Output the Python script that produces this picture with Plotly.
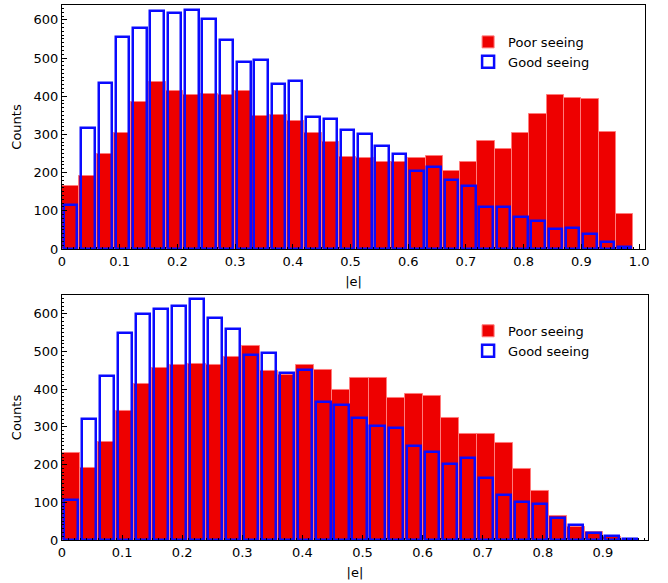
import plotly.graph_objects as go

# Bin left edges (bin width 0.03)
bins_top = [0.00, 0.03, 0.06, 0.09, 0.12, 0.15, 0.18, 0.21, 0.24, 0.27, 0.30,
            0.33, 0.36, 0.39, 0.42, 0.45, 0.48, 0.51, 0.54, 0.57, 0.60, 0.63,
            0.66, 0.69, 0.72, 0.75, 0.78, 0.81, 0.84, 0.87, 0.90, 0.93, 0.96]
bins_bottom = bins_top[:32]

# Top panel counts
poor_top = [166, 192, 248, 305, 386, 438, 415, 403, 406, 403, 414, 348, 350,
            336, 303, 280, 242, 238, 227, 228, 239, 244, 203, 228, 282, 263,
            303, 353, 403, 395, 393, 307, 92]
good_top = [115, 316, 435, 555, 580, 623, 619, 626, 602, 548, 491, 495, 432,
            439, 345, 341, 311, 301, 270, 250, 205, 215, 181, 166, 110, 109,
            85, 74, 52, 54, 39, 17, 5]

# Bottom panel counts
poor_bottom = [230, 191, 261, 341, 413, 456, 465, 467, 465, 486, 515, 448, 439,
               465, 450, 399, 431, 431, 376, 388, 382, 323, 282, 282, 257, 189,
               129, 64, 34, 22, 8, 0]
good_bottom = [105, 322, 434, 549, 599, 614, 620, 639, 589, 559, 491, 496, 443,
               451, 365, 357, 323, 303, 296, 250, 233, 201, 217, 164, 119, 100,
               95, 58, 40, 19, 12, 4]

xt_top = [0, 0.1, 0.2, 0.3, 0.4, 0.5, 0.6, 0.7, 0.8, 0.9, 1.0]
xt_top_txt = ["0", "0.1", "0.2", "0.3", "0.4", "0.5", "0.6", "0.7", "0.8", "0.9", "1.0"]
xt_bot = xt_top[:10]
xt_bot_txt = xt_top_txt[:10]
yt = [0, 100, 200, 300, 400, 500, 600]

RED = "#ee0000"
RED_EDGE = "#ff7b7b"
BLUE = "#0a0aff"
BW = 0.03
GW = 0.0235

fig = go.Figure()

def add_pair(bins, poor, good, xa, ya, leg):
    fig.add_trace(go.Bar(x=bins, y=poor, width=BW, offset=0, name="Poor seeing",
                         marker=dict(color=RED, line=dict(color=RED_EDGE, width=1)),
                         xaxis=xa, yaxis=ya, legend=leg))
    fig.add_trace(go.Bar(x=bins, y=good, width=GW, offset=(BW - GW) / 2,
                         name="Good seeing",
                         marker=dict(color="rgba(0,0,255,0)", line=dict(color=BLUE, width=2.5)),
                         xaxis=xa, yaxis=ya, legend=leg))

add_pair(bins_top, poor_top, good_top, "x", "y", "legend")
add_pair(bins_bottom, poor_bottom, good_bottom, "x2", "y2", "legend2")

font = dict(family="DejaVu Sans", size=13, color="black")
axis_common = dict(showline=True, linecolor="black", linewidth=1.3, mirror=True,
                   ticks="inside", ticklen=5, tickcolor="black", showgrid=False,
                   zeroline=False, automargin=False,
                   tickfont=dict(family="DejaVu Sans", size=13, color="black"))

fig.update_layout(
    width=668, height=583, autosize=False,
    margin=dict(l=62, r=20, t=5, b=43),
    paper_bgcolor="white", plot_bgcolor="white",
    barmode="overlay", bargap=0,
    font=font,
    xaxis=dict(domain=[0, 0.995], range=[0, 1.0104], anchor="y",
               tickvals=xt_top, ticktext=xt_top_txt,
               minor=dict(dtick=0.01, ticks="inside", ticklen=2, tickcolor="black"),
               title=dict(text="|e|", font=dict(size=13), standoff=9), **axis_common),
    yaxis=dict(domain=[0.544, 1], range=[0, 639], anchor="x", tickvals=yt,
               minor=dict(dtick=10, ticks="inside", ticklen=2, tickcolor="black"),
               title=dict(text="Counts", font=dict(size=13), standoff=8), **axis_common),
    xaxis2=dict(domain=[0, 1], range=[0, 0.975], anchor="y2",
                tickvals=xt_bot, ticktext=xt_bot_txt,
                minor=dict(dtick=0.01, ticks="inside", ticklen=2, tickcolor="black"),
                title=dict(text="|e|", font=dict(size=13), standoff=9), **axis_common),
    yaxis2=dict(domain=[0, 0.458], range=[0, 650], anchor="x2", tickvals=yt,
                minor=dict(dtick=10, ticks="inside", ticklen=2, tickcolor="black"),
                title=dict(text="Counts", font=dict(size=13), standoff=8), **axis_common),
    legend=dict(x=0.693, y=0.959, xanchor="left", yanchor="top",
                bgcolor="rgba(0,0,0,0)", font=dict(size=13), itemwidth=30,
                tracegroupgap=0),
    legend2=dict(x=0.693, y=0.419, xanchor="left", yanchor="top",
                 bgcolor="rgba(0,0,0,0)", font=dict(size=13), itemwidth=30,
                 tracegroupgap=0),
)

fig.write_html("out.html", config={"displayModeBar": False},
               post_script="document.body.style.margin='0px';document.body.style.padding='0px';")
